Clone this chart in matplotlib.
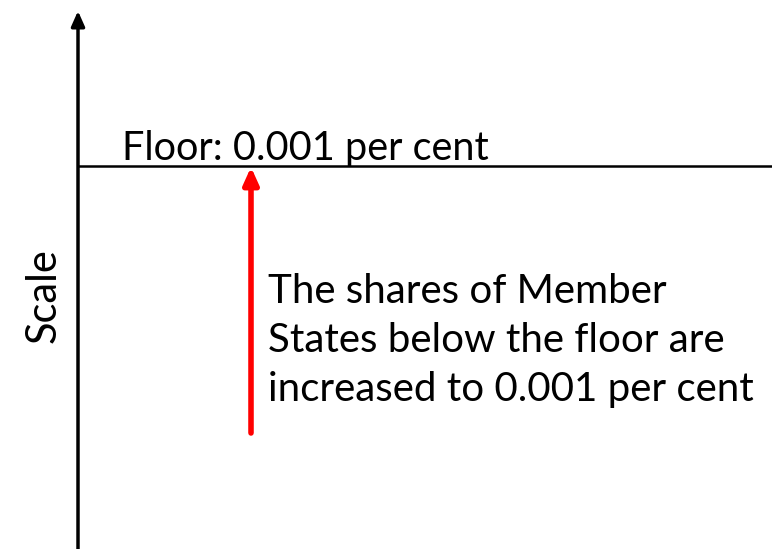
import matplotlib.pyplot as plt

# diagram content
floor_label = "Floor: 0.001 per cent"
note_lines = ["The shares of Member", "States below the floor are", "increased to 0.001 per cent"]
axis_label = "Scale"

plt.rcParams['font.family'] = ['Lato', 'DejaVu Sans']

fig = plt.figure(figsize=(7.72, 5.49), dpi=100)
ax = fig.add_axes([0, 0, 1, 1])
ax.set_xlim(0, 772)
ax.set_ylim(549, 0)
ax.axis('off')

# vertical scale axis with arrow on top
ax.annotate('', xy=(78, 11), xytext=(78, 549),
            arrowprops=dict(arrowstyle='-|>,head_length=0.9,head_width=0.4', color='black', lw=2.5,
                            shrinkA=0, shrinkB=0))

# floor line
ax.plot([78, 772], [166, 166], color='black', lw=1.8, solid_capstyle='butt')
ax.text(122, 160, floor_label, fontsize=28.5, ha='left', va='baseline')

# red arrow up to the floor
ax.annotate('', xy=(251, 167), xytext=(251, 433),
            arrowprops=dict(arrowstyle='-|>,head_length=1.0,head_width=0.45', color='red', lw=4,
                            shrinkA=0, shrinkB=0))

for i, line in enumerate(note_lines):
    ax.text(268, 303 + i * 49, line, fontsize=29, ha='left', va='baseline')

ax.text(44, 296, axis_label, fontsize=30, rotation=90, ha='center', va='center')

fig.savefig('out.png', dpi=100)
